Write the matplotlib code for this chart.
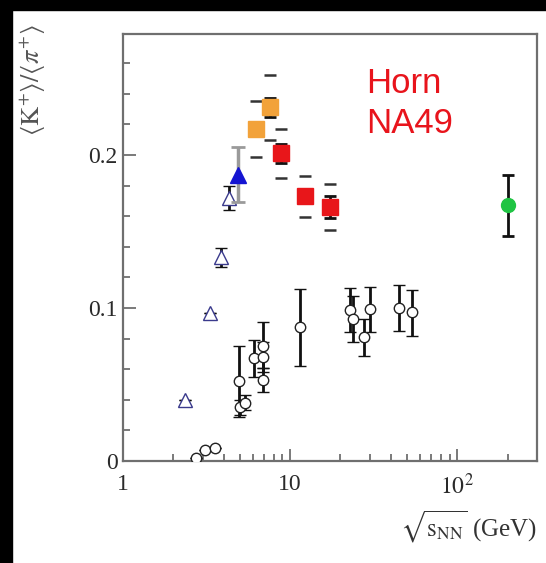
import matplotlib
matplotlib.use("Agg")
import matplotlib.pyplot as plt
from matplotlib.patches import Rectangle
from matplotlib.ticker import FixedLocator, FixedFormatter, NullFormatter

plt.rcParams["font.family"] = ["Liberation Serif", "DejaVu Serif"]
plt.rcParams["mathtext.fontset"] = "stix"

# AGS Au+Au (open triangles)
ags_x = [2.35, 3.31, 3.85, 4.29]
ags_y = [0.040, 0.097, 0.133, 0.172]
ags_err = [0.0, 0.0, 0.006, 0.008]

# AGS E802 (filled triangle)
e802_x = [4.86]
e802_y = [0.187]
e802_err = [0.018]

# NA49 Pb+Pb, new energies (orange squares)
na49_new_x = [6.27, 7.62]
na49_new_y = [0.217, 0.231]
na49_new_stat = [0.004, 0.006]
na49_new_sys = [0.0185, 0.021]

# NA49 Pb+Pb (red squares)
na49_x = [8.77, 12.3, 17.3]
na49_y = [0.201, 0.173, 0.166]
na49_stat = [0.006, 0.004, 0.007]
na49_sys = [0.016, 0.0135, 0.015]

# RHIC Au+Au (green circle)
rhic_x = [200.0]
rhic_y = [0.167]
rhic_err = [0.020]

# p+p data (open circles)
pp_x = [2.73, 3.09, 3.54, 4.95, 4.99, 5.35, 6.05, 6.85, 6.85, 6.9,
        11.5, 22.9, 23.9, 27.5, 30.1, 45.1, 53.3]
pp_y = [0.0018, 0.0072, 0.0083, 0.052, 0.035, 0.038, 0.067, 0.075, 0.068, 0.053,
        0.0873, 0.0986, 0.093, 0.081, 0.099, 0.0997, 0.0975]
pp_err_lo = [0.0, 0.0, 0.0, 0.023, 0.005, 0.005, 0.012, 0.014, 0.010, 0.008,
             0.025, 0.014, 0.015, 0.0125, 0.0145, 0.015, 0.0155]
pp_err_hi = [0.0, 0.0, 0.0, 0.023, 0.005, 0.005, 0.012, 0.016, 0.010, 0.008,
             0.025, 0.0145, 0.015, 0.012, 0.015, 0.0153, 0.0145]

x_major = [1, 10, 100]
x_major_labels = ["1", "10", r"$10^{2}$"]
x_minor = [2, 3, 4, 5, 6, 7, 8, 9, 20, 30, 40, 50, 60, 70, 80, 90, 200]
y_major = [0.0, 0.1, 0.2]
y_major_labels = ["0", "0.1", "0.2"]
y_minor = [0.02, 0.04, 0.06, 0.08, 0.12, 0.14, 0.16, 0.18, 0.22, 0.24, 0.26]

W, H = 546, 563
fig = plt.figure(figsize=(W / 100, H / 100), dpi=100)
fig.patch.set_facecolor("white")
# dark border strips along the top and left edges
fig.patches.append(Rectangle((0, 1 - 10 / H), 1, 10 / H, transform=fig.transFigure,
                             color="black", zorder=0))
fig.patches.append(Rectangle((0, 0), 12 / W, 1, transform=fig.transFigure,
                             color="black", zorder=0))

ax = fig.add_axes([123 / W, 1 - 461 / H, (537 - 123) / W, (461 - 34) / H])
ax.set_xscale("log")
ax.set_xlim(1, 300)
ax.set_ylim(0, 0.279)

frame_col = "#6f6f6f"
for s in ax.spines.values():
    s.set_color(frame_col)
    s.set_linewidth(1.6)

ax.xaxis.set_major_locator(FixedLocator(x_major))
ax.xaxis.set_major_formatter(FixedFormatter(x_major_labels))
ax.xaxis.set_minor_locator(FixedLocator(x_minor))
ax.xaxis.set_minor_formatter(NullFormatter())
ax.yaxis.set_major_locator(FixedLocator(y_major))
ax.yaxis.set_major_formatter(FixedFormatter(y_major_labels))
ax.yaxis.set_minor_locator(FixedLocator(y_minor))
ax.tick_params(which="both", direction="in", top=False, right=False,
               color=frame_col, width=1.3, labelsize=17, labelcolor="#2a2a2a")
ax.tick_params(which="major", length=9)
ax.tick_params(which="minor", length=5)
ax.tick_params(axis="x", which="major", pad=9)
ax.tick_params(axis="y", which="major", pad=4)

eb_kw = dict(ecolor="#111111", elinewidth=2.0, capsize=4, capthick=2.0)

# p+p
ax.errorbar(pp_x, pp_y, yerr=[pp_err_lo, pp_err_hi], fmt="o", ms=7.5,
            mfc="white", mec="#222222", mew=1.0, zorder=4, **eb_kw)

# AGS open triangles
ax.errorbar(ags_x, ags_y, yerr=ags_err, fmt="^", ms=10, mfc="white",
            mec="#3a3a8c", mew=1.0, zorder=4, **eb_kw)

# E802
ax.errorbar(e802_x, e802_y, yerr=e802_err, fmt="^", ms=11, mfc="#1414d2",
            mec="#1414d2", ecolor="#9a9a9a", elinewidth=2.5, capsize=5,
            capthick=2.0, zorder=5)

# NA49 systematic ranges shown as short dashes
for xs, ys, ss in ((na49_new_x, na49_new_y, na49_new_sys), (na49_x, na49_y, na49_sys)):
    ax.plot(xs, [y + s for y, s in zip(ys, ss)], "_", ms=9, mew=1.8,
            color="#333333", zorder=3)
    ax.plot(xs, [y - s for y, s in zip(ys, ss)], "_", ms=9, mew=1.8,
            color="#333333", zorder=3)

ax.errorbar(na49_new_x, na49_new_y, yerr=na49_new_stat, fmt="s", ms=11.5,
            mfc="#f2a23a", mec="#f2a23a", zorder=5, **eb_kw)
ax.errorbar(na49_x, na49_y, yerr=na49_stat, fmt="s", ms=11.5,
            mfc="#e8161a", mec="#e8161a", zorder=5, **eb_kw)

# RHIC
ax.errorbar(rhic_x, rhic_y, yerr=rhic_err, fmt="o", ms=10,
            mfc="#1fc443", mec="#1fc443", zorder=5, **eb_kw)

# annotations
fig.text(366 / W, 1 - 93 / H, "Horn", color="#e8141c", fontsize=25,
         family=["Liberation Sans", "DejaVu Sans"], va="baseline")
fig.text(366 / W, 1 - 133 / H, "NA49", color="#e8141c", fontsize=25,
         family=["Liberation Sans", "DejaVu Sans"], va="baseline")

fig.text(33 / W, 1 - 24 / H, r"$\langle \mathrm{K}^{+}\rangle/\langle \pi^{+}\rangle$",
         rotation=90, ha="center", va="top", fontsize=19, color="#555555")
fig.text(537 / W, 1 - 527 / H, r"$\sqrt{\mathrm{s}_{\mathrm{NN}}}$ (GeV)",
         ha="right", va="center", fontsize=18, color="#333333")

fig.savefig("out.png", dpi=100, facecolor="white")
